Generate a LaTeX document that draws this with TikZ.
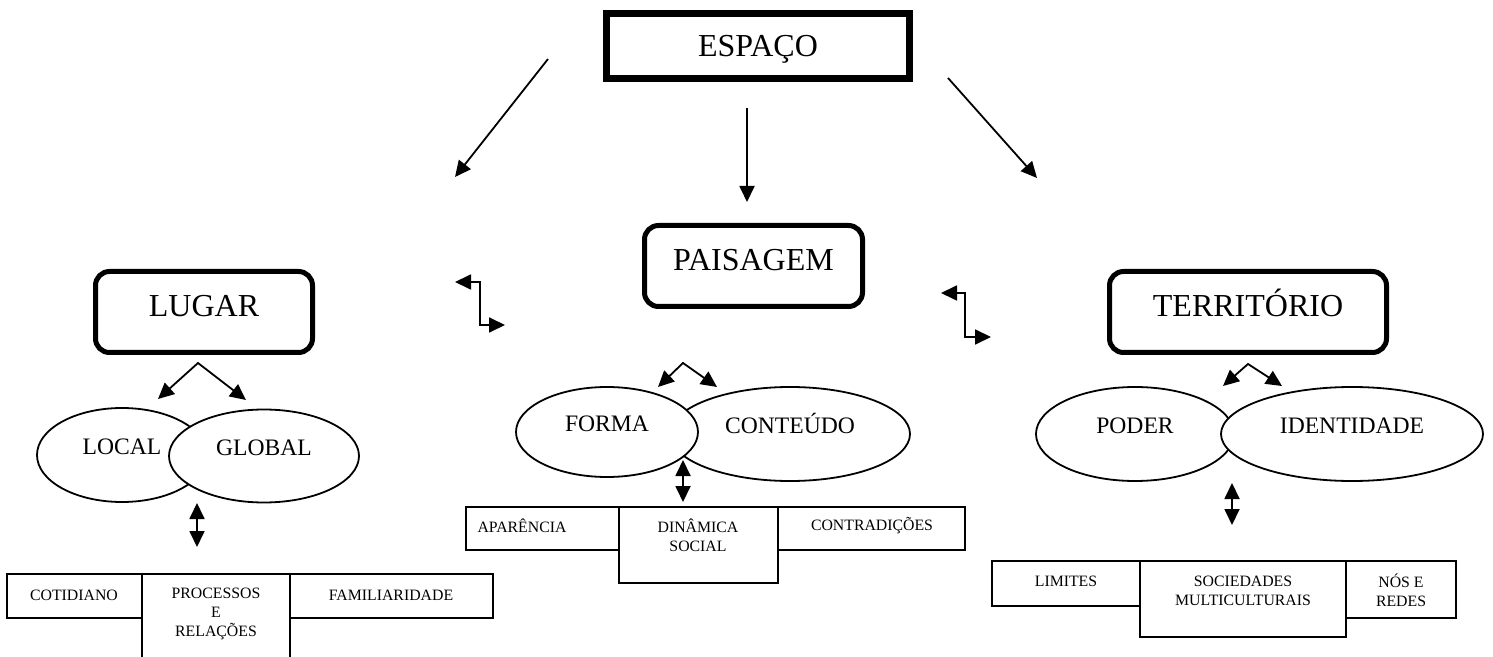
\documentclass[tikz,border=0pt]{standalone}
\usepackage{fontspec}
\setmainfont{Liberation Serif}
\usetikzlibrary{arrows.meta,shapes.geometric}
\tikzset{
	topo/.style={draw,line width=3.5pt,inner sep=0pt,minimum width=151.5pt,minimum height=32.5pt,font=\fontsize{16}{19}\selectfont,text height=11pt,text depth=0pt},
	conceito/.style={draw,line width=2.5pt,rounded corners=7pt,inner sep=0pt,minimum height=40.5pt,font=\fontsize{16}{19}\selectfont,text height=11pt,text depth=6pt},
	bolha/.style={draw,ellipse,line width=0.9pt,fill=white,inner sep=0pt,font=\fontsize{11.8}{14}\selectfont,text height=8pt,text depth=9pt},
	celula/.style={draw,line width=0.9pt,inner sep=0pt},
	rotulo/.style={inner sep=0pt,align=center,font=\fontsize{7.9}{9.6}\selectfont},
	seta/.style={line width=0.9pt,-{Triangle[length=8pt,width=7.5pt]}},
	dupla/.style={line width=0.9pt,{Triangle[length=8pt,width=7.5pt]}-{Triangle[length=8pt,width=7.5pt]}}
}
\begin{document}
\begin{tikzpicture}[x=0.5pt,y=-0.5pt,line join=miter]
		\useasboundingbox (0,0) rectangle (1493,657);
		\clip (0,0) rectangle (1493,657);
		% conceitos
		\node[topo] (esp) at (758,46) {ESPAÇO};
		\node[conceito,minimum width=108.5pt] (lug) at (204,312) {LUGAR};
		\node[conceito,minimum width=109pt] (pai) at (753.5,266) {PAISAGEM};
		\node[conceito,minimum width=138.5pt] (ter) at (1248,312) {TERRITÓRIO};
		% elipses
		\node[bolha,minimum width=85pt,minimum height=47pt] (loc) at (122,455) {LOCAL};
		\node[bolha,minimum width=95pt,minimum height=46.5pt] (glo) at (264,456) {GLOBAL};
		\node[bolha,minimum width=120pt,minimum height=47pt] (con) at (790,434) {CONTEÚDO};
		\node[bolha,minimum width=91pt,minimum height=45pt] (for) at (607,432) {FORMA};
		\node[bolha,minimum width=99pt,minimum height=47pt] (pod) at (1135,434) {PODER};
		\node[bolha,minimum width=131pt,minimum height=47pt] (ide) at (1352,434) {IDENTIDADE};
		% caixas de baixo
		\node[celula,minimum width=67.5pt,minimum height=22pt] (cot) at (74.5,596) {};
		\node[celula,minimum width=74pt,minimum height=53pt] (pro) at (216,627) {};
		\node[celula,minimum width=101.5pt,minimum height=22pt] (fam) at (391.5,596) {};
		\node[celula,minimum width=76.5pt,minimum height=21.5pt] (apa) at (542.5,528.5) {};
		\node[celula,minimum width=79.5pt,minimum height=38pt] (din) at (698.5,545) {};
		\node[celula,minimum width=93.5pt,minimum height=21.5pt] (ctr) at (871.5,528.5) {};
		\node[celula,minimum width=74pt,minimum height=22.5pt] (lim) at (1066,583.5) {};
		\node[celula,minimum width=103pt,minimum height=38pt] (soc) at (1243,599) {};
		\node[celula,minimum width=55pt,minimum height=28.5pt] (nos) at (1401,589.5) {};
		\node[rotulo] (tcot) at (74,595) {COTIDIANO};
		\node[rotulo] (tpro) at (216,614) {PROCESSOS\\E\\RELAÇÕES};
		\node[rotulo] (tfam) at (391,595) {FAMILIARIDADE};
		\node[rotulo] (tapa) at (522,526) {APARÊNCIA};
		\node[rotulo] (tdin) at (698,535.5) {DINÂMICA\\SOCIAL};
		\node[rotulo] (tctr) at (872,526) {CONTRADIÇÕES};
		\node[rotulo] (tlim) at (1066,581) {LIMITES};
		\node[rotulo] (tsoc) at (1243,590.5) {SOCIEDADES\\MULTICULTURAIS};
		\node[rotulo] (tnos) at (1401,590.5) {NÓS E\\REDES};
		% pontas das setas
		\coordinate (e1) at (548,59);
		\coordinate (e2) at (455,177);
		\coordinate (e3) at (747,108);
		\coordinate (e4) at (747,202);
		\coordinate (e5) at (948,78);
		\coordinate (e6) at (1037,178);
		\coordinate (b1) at (455,282);
		\coordinate (b2) at (505,325);
		\coordinate (b3) at (941,293);
		\coordinate (b4) at (991,337);
		\coordinate (l0) at (198,363);
		\coordinate (l1) at (158,399);
		\coordinate (l2) at (246,400);
		\coordinate (p0) at (683,363);
		\coordinate (p1) at (658,387);
		\coordinate (p2) at (717,387);
		\coordinate (t0) at (1248,364);
		\coordinate (t1) at (1223,386);
		\coordinate (t2) at (1282,386);
		\coordinate (l3) at (197,503);
		\coordinate (l4) at (197,547);
		\coordinate (p3) at (683,460);
		\coordinate (p4) at (683,502);
		\coordinate (t3) at (1232,483);
		\coordinate (t4) at (1232,525);
		% setas
		\draw[seta] (e1) -- (e2);
		\draw[seta] (e3) -- (e4);
		\draw[seta] (e5) -- (e6);
		\draw[dupla] (b1) -- ++(25,0) |- (b2);
		\draw[dupla] (b3) -- ++(24,0) |- (b4);
		\draw[dupla] (l1) -- (l0) -- (l2);
		\draw[dupla] (p1) -- (p0) -- (p2);
		\draw[dupla] (t1) -- (t0) -- (t2);
		\draw[dupla] (l3) -- (l4);
		\draw[dupla] (p3) -- (p4);
		\draw[dupla] (t3) -- (t4);
\end{tikzpicture}
\end{document}
